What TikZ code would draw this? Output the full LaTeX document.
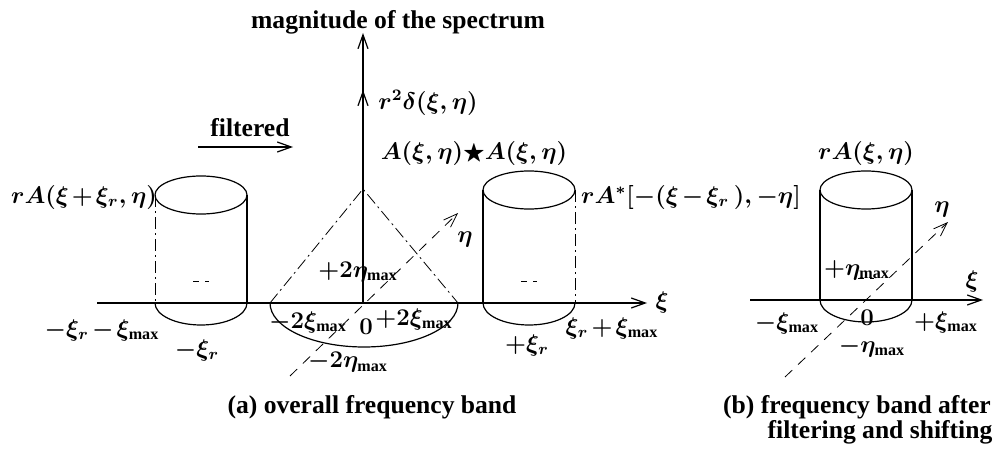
\documentclass[tikz,border=0pt]{standalone}
\usepackage{amsmath,amssymb}
\usepackage{fontspec}
\setmainfont{Liberation Serif}
\usetikzlibrary{arrows.meta}

\begin{document}
\begin{tikzpicture}[x=0.5pt,y=0.5pt,line width=0.6pt,
  txt/.style={inner sep=0pt,font=\bfseries\fontsize{12.8}{15}\selectfont},
  lbl/.style={inner sep=0pt,font=\boldmath\fontsize{11.5}{14}\selectfont,
    execute at begin node={\medmuskip=2mu\relax\thickmuskip=2mu\relax}},
  barb/.style={-{Straight Barb[length=7pt,width=5pt]}},
  hidden/.style={line width=0.4pt,dash pattern=on 6pt off 2pt on 1pt off 2pt},
  etaaxis/.style={line width=0.4pt,dash pattern=on 5pt off 4pt}]
\useasboundingbox (0,0) rectangle (998,451);
% axes of (a)
\coordinate (o) at (363,148);
\coordinate (xa0) at (97,148);
\coordinate (xa1) at (647,148);
\coordinate (top) at (363,418);
\coordinate (dlt) at (363,361);
\coordinate (ea0) at (290,75);
\coordinate (ea1) at (458,238);
\draw[barb] (xa0) -- (xa1);
\draw[barb] (o) -- (top);
\draw[barb] (o) -- (dlt);
\draw[etaaxis,barb] (ea0) -- (ea1);
% axes of (b)
\coordinate (xb0) at (750,151);
\coordinate (xb1) at (983,151);
\coordinate (eb0) at (785,74);
\coordinate (eb1) at (948,229);
\draw[barb] (xb0) -- (xb1);
\draw[etaaxis,barb] (eb0) -- (eb1);
% cylinders
\foreach \cx/\ty/\by/\ls/\rs in {201/256/148/hidden/solid,529/261/148/solid/hidden,866/261/151/solid/solid} {
  \draw (\cx,\ty) ellipse [x radius=46,y radius=19];
  \draw[\ls] (\cx-46,\ty) -- (\cx-46,\by);
  \draw[\rs] (\cx+46,\ty) -- (\cx+46,\by);
  \draw (\cx-46,\by) arc[start angle=180,end angle=360,x radius=46,y radius=22];
  \draw[line width=0.4pt,dashed] (\cx-8,\by+22) -- (\cx+8,\by+22);
}
% cone
\coordinate (apex) at (363,262);
\coordinate (cl) at (270,148);
\coordinate (cr) at (458,148);
\draw[hidden] (cl) -- (apex) -- (cr);
\draw (cl) arc[start angle=180,end angle=360,x radius=94,y radius=44];
% filtered arrow
\coordinate (f0) at (198,304);
\coordinate (f1) at (293,304);
\draw[barb] (f0) -- (f1);
% texts
\node[txt] (mag) at (398,429) {magnitude of the spectrum};
\node[txt] (filt) at (250,323) {filtered};
\node[txt] (capa) at (372,44) {(a) overall frequency band};
\node[txt] (capb) at (857,44) {(b) frequency band after};
\node[txt] (capc) at (880,19) {filtering and shifting};
% labels of (a)
\node[lbl] (dl) at (428,348) {$r^2\delta(\xi,\eta)$};
\node[lbl] (conv) at (474,298) {$A(\xi,\eta)\bigstar A(\xi,\eta)$};
\node[lbl] (lcyl) at (84,254) {$rA(\xi+\xi_r,\eta)$};
\node[lbl] (rcyl) at (691,254) {$rA^{*}[-(\xi-\xi_r\,),-\eta]$};
\node[lbl] (xl1) at (102,121) {$-\xi_r-\xi_{\max}$};
\node[lbl] (xl2) at (197,101) {$-\xi_r$};
\node[lbl] (xl3) at (308,129) {$-2\xi_{\max}$};
\node[lbl] (xo) at (366,124) {$0$};
\node[lbl] (xl4) at (414,132) {$+2\xi_{\max}$};
\node[lbl] (el1) at (348,89) {$-2\eta_{\max}$};
\node[lbl] (el2) at (358,179) {$+2\eta_{\max}$};
\node[lbl] (eta) at (465,211) {$\eta$};
\node[lbl] (xr1) at (527,106) {$+\xi_r$};
\node[lbl] (xr2) at (612,123) {$\xi_r+\xi_{\max}$};
\node[lbl] (xi) at (662,148) {$\xi$};
% labels of (b)
\node[lbl] (bcyl) at (866,298) {$rA(\xi,\eta)$};
\node[lbl] (etab) at (942,241) {$\eta$};
\node[lbl] (xib) at (972,169) {$\xi$};
\node[lbl] (eb1l) at (857,181) {$+\eta_{\max}$};
\node[lbl] (xb1l) at (787,128) {$-\xi_{\max}$};
\node[lbl] (xbo) at (867,133) {$0$};
\node[lbl] (xb2l) at (946,129) {$+\xi_{\max}$};
\node[lbl] (eb2l) at (872,104) {$-\eta_{\max}$};
\end{tikzpicture}
\end{document}
